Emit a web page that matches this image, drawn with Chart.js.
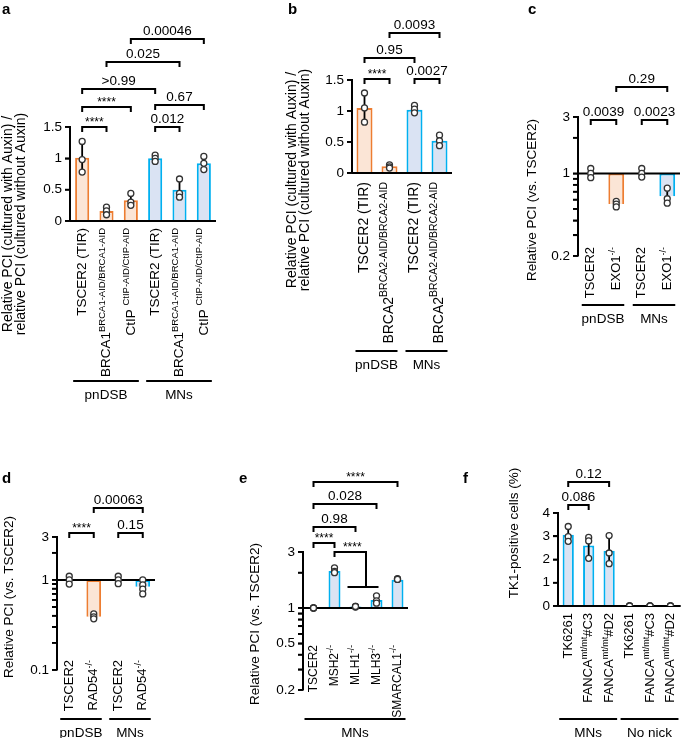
<!DOCTYPE html>
<html>
<head>
<meta charset="utf-8">
<script src="https://cdn.jsdelivr.net/npm/chart.js@4.4.1/dist/chart.umd.min.js"></script>
<style>
body { margin: 0; background: #fff; }
canvas { position: absolute; left: 0; top: 0; }
</style>
</head>
<body>
<canvas id="pa" width="685" height="738"></canvas>
<canvas id="pb" width="685" height="738"></canvas>
<canvas id="pc" width="685" height="738"></canvas>
<canvas id="pd" width="685" height="738"></canvas>
<canvas id="pe" width="685" height="738"></canvas>
<canvas id="pf" width="685" height="738"></canvas>
<script>
// ---- data ----
// labels use ^{...} for superscript parts
var aLabels = ['TSCER2 (TIR)', 'BRCA1^{BRCA1-AID/BRCA1-AID}', 'CtIP ^{CtIP-AID/CtIP-AID}',
               'TSCER2 (TIR)', 'BRCA1^{BRCA1-AID/BRCA1-AID}', 'CtIP ^{CtIP-AID/CtIP-AID}'];
var aGroups = ['pnDSB', 'pnDSB', 'pnDSB', 'MNs', 'MNs', 'MNs'];
var aMeans = [1.01, 0.16, 0.33, 1.0, 0.50, 0.92];
var aSD = [0.25, 0.05, 0.08, 0.04, 0.15, 0.09];
var aPoints = [[1.27, 0.98, 0.78], [0.22, 0.16, 0.10], [0.44, 0.30, 0.25], [1.05, 1.0, 0.95], [0.67, 0.44, 0.38], [1.03, 0.92, 0.82]];
var aTests = [[0, 1], [3, 4], [0, 2], [3, 5], [0, 3], [1, 4], [2, 5]];
var aPvals = ['****', '0.012', '****', '0.67', '>0.99', '0.025', '0.00046'];
var aTicks = [0, 0.5, 1, 1.5];

var bLabels = ['TSCER2 (TIR)', 'BRCA2^{BRCA2-AID/BRCA2-AID}', 'TSCER2 (TIR)', 'BRCA2^{BRCA2-AID/BRCA2-AID}'];
var bGroups = ['pnDSB', 'pnDSB', 'MNs', 'MNs'];
var bMeans = [1.05, 0.11, 1.02, 0.52];
var bSD = [0.23, 0.03, 0.06, 0.08];
var bPoints = [[1.29, 1.05, 0.82], [0.13, 0.10, 0.08], [1.09, 1.03, 0.97], [0.61, 0.52, 0.44]];
var bTests = [[0, 1], [2, 3], [0, 2], [1, 3]];
var bPvals = ['****', '0.0027', '0.95', '0.0093'];
var bTicks = [0, 0.5, 1, 1.5];

var cLabels = ['TSCER2', 'EXO1^{-/-}', 'TSCER2', 'EXO1^{-/-}'];
var cGroups = ['pnDSB', 'pnDSB', 'MNs', 'MNs'];
var cMeans = [1.0, 0.55, 1.0, 0.64];
var cSD = [0.08, 0.03, 0.07, 0.09];
var cPoints = [[1.1, 1.0, 0.92], [0.58, 0.55, 0.52], [1.1, 1.0, 0.93], [0.75, 0.61, 0.56]];
var cTests = [[0, 1], [2, 3], [1, 3]];
var cPvals = ['0.0039', '0.0023', '0.29'];
var cTicks = [0.2, 1, 3];

var dLabels = ['TSCER2', 'RAD54^{-/-}', 'TSCER2', 'RAD54^{-/-}'];
var dGroups = ['pnDSB', 'pnDSB', 'MNs', 'MNs'];
var dMeans = [1.0, 0.39, 1.0, 0.84];
var dSD = [0.08, 0.03, 0.08, 0.12];
var dPoints = [[1.1, 1.0, 0.9], [0.42, 0.39, 0.37], [1.1, 1.0, 0.91], [1.0, 0.88, 0.79, 0.70]];
var dTests = [[0, 1], [2, 3], [1, 3]];
var dPvals = ['****', '0.15', '0.00063'];
var dTicks = [0.1, 1, 3];

var eLabels = ['TSCER2', 'MSH2^{-/-}', 'MLH1^{-/-}', 'MLH3^{-/-}', 'SMARCAL1^{-/-}'];
var eGroups = ['MNs', 'MNs', 'MNs', 'MNs', 'MNs'];
var eMeans = [1.0, 2.07, 1.03, 1.17, 1.74];
var eSD = [0.01, 0.1, 0.01, 0.08, 0.02];
var ePoints = [[1.0, 1.0, 1.0], [2.2, 2.05, 2.0], [1.03, 1.02, 1.03], [1.27, 1.15, 1.1], [1.78, 1.76, 1.75]];
var eTests = [[0, 1], [0, 2], [0, 3], [0, 4]];
var ePvals = ['****', '0.98', '0.028', '****'];
var eSplitTest = [1, 2, 3];   // MSH2 vs MLH1 / MLH3
var eSplitPval = '****';
var eTicks = [0.2, 0.5, 1, 3];

var fLabels = ['TK6261', 'FANCA^{mt/mt}#C3', 'FANCA^{mt/mt}#D2', 'TK6261', 'FANCA^{mt/mt}#C3', 'FANCA^{mt/mt}#D2'];
var fGroups = ['MNs', 'MNs', 'MNs', 'No nick', 'No nick', 'No nick'];
var fMeans = [3.06, 2.6, 2.38, 0, 0, 0];
var fSD = [0.36, 0.42, 0.63, 0, 0, 0];
var fPoints = [[3.42, 2.98, 2.78], [2.95, 2.8, 2.05], [3.03, 2.28, 1.82], [0, 0, 0], [0, 0, 0], [0, 0, 0]];
var fTests = [[0, 1], [0, 2]];
var fPvals = ['0.086', '0.12'];
var fTicks = [0, 1, 2, 3, 4];

var FONT = '"Liberation Sans", Arial, sans-serif';
var ORANGE = '#ED7D31', ORANGE_FILL = '#FBE5D6';
var BLUE = '#00B0F0', BLUE_FILL = '#DAE3F3';

Chart.defaults.font.family = FONT;
Chart.defaults.color = '#000';

function parseLabel(s) {
    var segs = [];
    var re = /\^\{([^}]*)\}/g, last = 0, m;
    while ((m = re.exec(s)) !== null) {
        if (m.index > last) segs.push([s.slice(last, m.index), false]);
        segs.push([m[1], true]);
        last = re.lastIndex;
    }
    if (last < s.length) segs.push([s.slice(last), false]);
    return segs;
}

// rotated label, reading bottom to top, its end at yTop
function drawRotLabel(ctx, s, cx, yTop, size, supSize, supShift) {
    var segs = parseLabel(s);
    var total = 0;
    segs.forEach(function(sg) {
        ctx.font = (sg[1] ? supSize : size) + 'px ' + FONT;
        total += ctx.measureText(sg[0]).width;
    });
    ctx.save();
    ctx.translate(cx, yTop);
    ctx.rotate(-Math.PI / 2);
    ctx.textAlign = 'left';
    ctx.textBaseline = 'middle';
    var x = -total;
    segs.forEach(function(sg) {
        ctx.font = (sg[1] ? supSize : size) + 'px ' + FONT;
        ctx.fillText(sg[0], x, sg[1] ? -supShift : 0);
        x += ctx.measureText(sg[0]).width;
    });
    ctx.restore();
}

function drawBracket(ctx, x1, x2, y, text, size) {
    ctx.beginPath();
    ctx.moveTo(x1, y + 5); ctx.lineTo(x1, y); ctx.lineTo(x2, y); ctx.lineTo(x2, y + 5);
    ctx.stroke();
    ctx.textAlign = 'center';
    ctx.textBaseline = 'alphabetic';
    if (text === '****') {
        ctx.font = '12px ' + FONT;
        ctx.fillText(text, (x1 + x2) / 2, y - 1);
    } else {
        ctx.font = size + 'px ' + FONT;
        ctx.fillText(text, (x1 + x2) / 2, y - 4);
    }
}

// tick positions of a log axis: 1..9 x 10^e inside [min, max]
function logTickValues(min, max) {
    var t = [];
    for (var e = Math.floor(Math.log10(min) + 1e-9); Math.pow(10, e) <= max; e++) {
        for (var k = 1; k < 10; k++) {
            var v = +(k * Math.pow(10, e)).toPrecision(3);
            if (v >= min - 1e-9 && v <= max + 1e-9) t.push(v);
        }
    }
    return t;
}

function drawPanel(id, d, lay) {
    var n = d.labels.length;
    var fills = d.groups.map(function(g) { return g === 'pnDSB' ? ORANGE_FILL : BLUE_FILL; });
    var borders = d.groups.map(function(g) { return g === 'pnDSB' ? ORANGE : BLUE; });
    var pts = [];
    d.points.forEach(function(arr, i) {
        arr.forEach(function(v) { pts.push({x: i, y: v}); });
    });
    var tickVals = d.log ? logTickValues(d.min, d.max) : d.ticks;

    var yScale = {
        type: d.log ? 'logarithmic' : 'linear',
        min: d.min, max: d.max,
        afterFit: function(s) { s.width = 34; },
        afterBuildTicks: function(s) {
            s.ticks = tickVals.map(function(v) { return {value: v}; });
        },
        border: {display: true, color: '#000', width: 2},
        grid: {drawOnChartArea: false, drawTicks: true, tickLength: 5, color: '#000', lineWidth: 1.6},
        ticks: {
            autoSkip: false, color: '#000', padding: 3,
            font: {family: FONT, size: 13.5},
            callback: function(v) {
                var r = +Number(v).toPrecision(3);
                return d.ticks.indexOf(r) >= 0 ? String(r) : '';
            }
        }
    };

    var plugin = {
        id: 'panel_' + id,
        afterDatasetDraw: function(chart, args) {
            if (args.index !== 0) return;
            var ctx = chart.ctx, ys = chart.scales.y, xs = chart.scales.x, ca = chart.chartArea;
            ctx.save();
            ctx.strokeStyle = '#000';
            ctx.lineWidth = 2;
            var yb = ys.getPixelForValue(d.base);
            ctx.beginPath(); ctx.moveTo(ca.left, yb); ctx.lineTo(ca.right, yb); ctx.stroke();
            // outward tick marks on the value axis
            ctx.lineWidth = 1.8;
            tickVals.forEach(function(v) {
                var y = ys.getPixelForValue(v);
                ctx.beginPath(); ctx.moveTo(ca.left - 5, y); ctx.lineTo(ca.left, y); ctx.stroke();
            });
            d.means.forEach(function(m, i) {
                if (!d.sd[i]) return;
                var x = xs.getPixelForValue(i);
                ctx.beginPath();
                ctx.moveTo(x, ys.getPixelForValue(m - d.sd[i]));
                ctx.lineTo(x, ys.getPixelForValue(m + d.sd[i]));
                ctx.stroke();
            });
            ctx.restore();
        },
        afterDraw: function(chart) {
            var ctx = chart.ctx, xs = chart.scales.x;
            ctx.save();
            ctx.fillStyle = '#000';
            ctx.strokeStyle = '#000';
            ctx.lineWidth = 2;
            // category labels
            d.labels.forEach(function(l, i) {
                drawRotLabel(ctx, l, xs.getPixelForValue(i), lay.labelTop, lay.lblFont, lay.supFont, lay.supShift);
            });
            // group lines
            var start = 0;
            for (var i = 1; i <= n; i++) {
                if (i === n || d.groups[i] !== d.groups[start]) {
                    var x1 = xs.getPixelForValue(start) - 9, x2 = xs.getPixelForValue(i - 1) + 8;
                    ctx.beginPath(); ctx.moveTo(x1, lay.groupY); ctx.lineTo(x2, lay.groupY); ctx.stroke();
                    ctx.font = '13.5px ' + FONT;
                    ctx.textAlign = 'center'; ctx.textBaseline = 'middle';
                    ctx.fillText(d.groups[start], (x1 + x2) / 2, lay.groupY + 14);
                    start = i;
                }
            }
            // significance brackets
            d.tests.forEach(function(t, k) {
                drawBracket(ctx, xs.getPixelForValue(t[0]), xs.getPixelForValue(t[1]), lay.bracketY[k], d.pvals[k], 13.5);
            });
            if (d.split) {
                var x0 = xs.getPixelForValue(d.split[0]);
                var xa = xs.getPixelForValue(d.split[1]), xb = xs.getPixelForValue(d.split[2]);
                var xm = (xa + xb) / 2, y = lay.splitY, yl = lay.splitLowY;
                ctx.beginPath();
                ctx.moveTo(x0, y + 5); ctx.lineTo(x0, y); ctx.lineTo(xm, y); ctx.lineTo(xm, yl);
                ctx.moveTo(xa - 8, yl); ctx.lineTo(xb + 2, yl);
                ctx.stroke();
                ctx.font = '12px ' + FONT;
                ctx.textAlign = 'center'; ctx.textBaseline = 'alphabetic';
                ctx.fillText(d.splitPval, (x0 + xm) / 2 + 2, y - 1);
            }
            // axis title
            ctx.font = lay.titleFont + 'px ' + FONT;
            ctx.textAlign = 'center'; ctx.textBaseline = 'middle';
            d.title.forEach(function(line, k) {
                ctx.save();
                ctx.translate(lay.titleX[k], lay.titleCY);
                ctx.rotate(-Math.PI / 2);
                ctx.fillText(line, 0, 0);
                ctx.restore();
            });
            // panel letter
            ctx.font = 'bold 15px ' + FONT;
            ctx.textAlign = 'left'; ctx.textBaseline = 'top';
            ctx.fillText(d.letter, lay.letter[0], lay.letter[1]);
            ctx.restore();
        }
    };

    new Chart(document.getElementById(id), {
        type: 'bar',
        data: {
            labels: d.labels,
            datasets: [{
                data: d.means.map(function(v) { return [d.base, v]; }),
                backgroundColor: fills,
                borderColor: borders,
                borderWidth: 2,
                borderSkipped: 'start',
                grouped: false,
                barPercentage: lay.barPct,
                categoryPercentage: 1,
                order: 2
            }, {
                type: 'line',
                data: pts,
                parsing: false,
                showLine: false,
                pointRadius: 3,
                pointHoverRadius: 3,
                pointBackgroundColor: '#fff',
                pointBorderColor: '#333',
                pointBorderWidth: 1.3,
                order: 1
            }]
        },
        options: {
            responsive: false,
            animation: false,
            events: [],
            layout: {padding: {left: lay.area[0] - 34, right: 685 - lay.area[1], top: lay.area[2], bottom: 738 - lay.area[3]}},
            plugins: {legend: {display: false}, tooltip: {enabled: false}},
            scales: {
                x: {display: false, offset: true},
                y: yScale
            }
        },
        plugins: [plugin]
    });
}

var auxinTitle = ['Relative PCI (cultured with Auxin) /', 'relative PCI (cultured without Auxin)'];
var pciTitle = ['Relative PCI (vs. TSCER2)'];

drawPanel('pa', {labels: aLabels, groups: aGroups, means: aMeans, sd: aSD, points: aPoints, tests: aTests, pvals: aPvals,
    ticks: aTicks, min: 0, max: 1.5, base: 0, log: false, title: auxinTitle, letter: 'a'},
    {area: [70, 216, 127, 221], barPct: 0.58, labelTop: 228, lblFont: 13.5, supFont: 9.5, supShift: 4.5, groupY: 381,
     bracketY: [127, 127, 107, 105, 89, 62, 39], titleX: [8, 21], titleCY: 224, titleFont: 14, letter: [2, 2]});

drawPanel('pb', {labels: bLabels, groups: bGroups, means: bMeans, sd: bSD, points: bPoints, tests: bTests, pvals: bPvals,
    ticks: bTicks, min: 0, max: 1.5, base: 0, log: false, title: auxinTitle, letter: 'b'},
    {area: [352, 452, 80, 173], barPct: 0.64, labelTop: 182, lblFont: 14, supFont: 10.5, supShift: 5, groupY: 351,
     bracketY: [79, 79, 58, 33], titleX: [292, 305], titleCY: 180, titleFont: 14, letter: [288, 2]});

drawPanel('pc', {labels: cLabels, groups: cGroups, means: cMeans, sd: cSD, points: cPoints, tests: cTests, pvals: cPvals,
    ticks: cTicks, min: 0.2, max: 3, base: 1, log: true, title: pciTitle, letter: 'c'},
    {area: [578, 680, 117, 256], barPct: 0.62, labelTop: 247, lblFont: 13, supFont: 9, supShift: 4, groupY: 305,
     bracketY: [120, 120, 87], titleX: [532], titleCY: 200, titleFont: 13.5, letter: [528, 2]});

drawPanel('pd', {labels: dLabels, groups: dGroups, means: dMeans, sd: dSD, points: dPoints, tests: dTests, pvals: dPvals,
    ticks: dTicks, min: 0.1, max: 3, base: 1, log: true, title: pciTitle, letter: 'd'},
    {area: [57, 155, 537, 670], barPct: 0.6, labelTop: 660, lblFont: 13, supFont: 9, supShift: 4, groupY: 719,
     bracketY: [533, 533, 508], titleX: [9], titleCY: 597, titleFont: 13.5, letter: [2, 471]});

drawPanel('pe', {labels: eLabels, groups: eGroups, means: eMeans, sd: eSD, points: ePoints, tests: eTests, pvals: ePvals,
    split: eSplitTest, splitPval: eSplitPval,
    ticks: eTicks, min: 0.2, max: 3, base: 1, log: true, title: pciTitle, letter: 'e'},
    {area: [303, 408, 552, 690], barPct: 0.57, labelTop: 645, lblFont: 12, supFont: 8.5, supShift: 4, groupY: 719,
     bracketY: [543, 527, 504, 482], splitY: 552, splitLowY: 587, titleX: [255], titleCY: 624, titleFont: 13.5, letter: [239, 471]});

drawPanel('pf', {labels: fLabels, groups: fGroups, means: fMeans, sd: fSD, points: fPoints, tests: fTests, pvals: fPvals,
    ticks: fTicks, min: 0, max: 4, base: 0, log: false, title: ['TK1-positive cells (%)'], letter: 'f'},
    {area: [558, 682, 513, 606], barPct: 0.55, labelTop: 613, lblFont: 13, supFont: 9, supShift: 4, groupY: 719,
     bracketY: [505, 482], titleX: [514], titleCY: 533, titleFont: 13.5, letter: [463, 471]});
</script>
</body>
</html>
